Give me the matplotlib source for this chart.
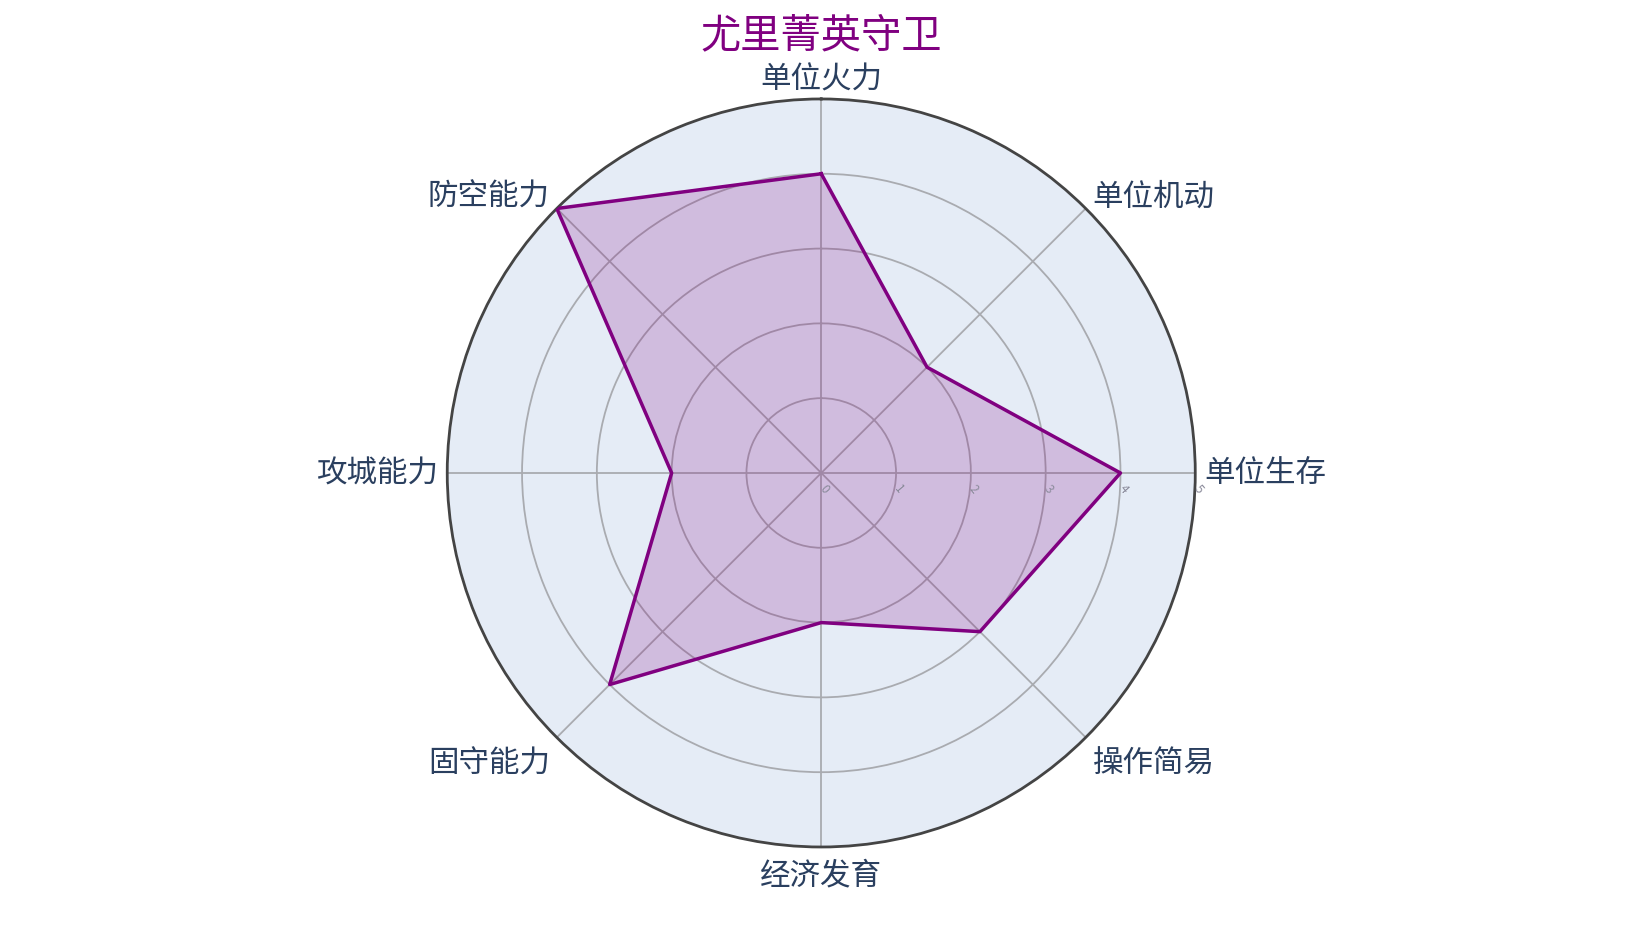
import numpy as np
import matplotlib.pyplot as plt

plt.rcParams['font.family'] = ['Noto Sans CJK SC', 'DejaVu Sans']

# 数据
titulo = "尤里菁英守卫"
categorias = ["单位火力", "单位机动", "单位生存", "操作简易",
              "经济发育", "固守能力", "攻城能力", "防空能力"]
valores = [4, 2, 4, 3, 2, 4, 2, 5]
ticks_r = [0, 1, 2, 3, 4, 5]

roxo = "#800080"
azul_texto = "#2a3f5f"

fig = plt.figure(figsize=(16.43, 9.29), dpi=100)
ax = fig.add_axes([0.2722, 0.0872, 0.4553, 0.8052], projection='polar')

n = len(categorias)
angulos = np.linspace(0, 2 * np.pi, n, endpoint=False)

ax.set_theta_zero_location('N')
ax.set_theta_direction(-1)
ax.set_ylim(0, 5)
ax.set_facecolor("#E5ECF6")

ax.set_xticks(angulos)
ax.set_xticklabels([])
ax.set_yticks([1, 2, 3, 4])
ax.set_yticklabels([])
ax.grid(color="#a9abb0", linewidth=1.3)
ax.spines['polar'].set_color("#444444")
ax.spines['polar'].set_linewidth(2)
ax.tick_params(axis='both', length=0)

# polígono fechado
ang_f = np.append(angulos, angulos[0])
val_f = np.append(valores, valores[0])
ax.fill(ang_f, val_f, color=roxo, alpha=0.2, zorder=3)
ax.plot(ang_f, val_f, color=roxo, linewidth=2.5, zorder=4)

# rótulos das categorias
for ang, nome in zip(angulos, categorias):
    x = np.sin(ang)
    y = np.cos(ang)
    if x > 0.1:
        ha = 'left'
    elif x < -0.1:
        ha = 'right'
    else:
        ha = 'center'
    if y > 0.9:
        dy = 20
    elif y < -0.9:
        dy = -28
    elif y > 0.1:
        dy = 12
    elif y < -0.1:
        dy = -26
    else:
        dy = 0
    dx = 0 if ha == 'center' else (7 if ha == 'left' else -7)
    if abs(y) < 0.1:
        dx = 9 if x > 0 else -9
    ax.annotate(nome, xy=(ang, 5), xytext=(dx * 0.72, dy * 0.72),
                textcoords='offset points', ha=ha, va='center',
                fontsize=22, color=azul_texto, annotation_clip=False)

# rótulos do eixo radial
for r in ticks_r:
    ax.annotate(str(r), xy=(np.pi / 2, r), xytext=(2, -11),
                textcoords='offset points', ha='center', va='center',
                fontsize=8.5, color="#8a8a9a", rotation=-50,
                annotation_clip=False, zorder=5)

fig.text(0.5, 0.962, titulo, ha='center', va='center',
         fontsize=29, color=roxo)

plt.savefig("out.png", dpi=100)
